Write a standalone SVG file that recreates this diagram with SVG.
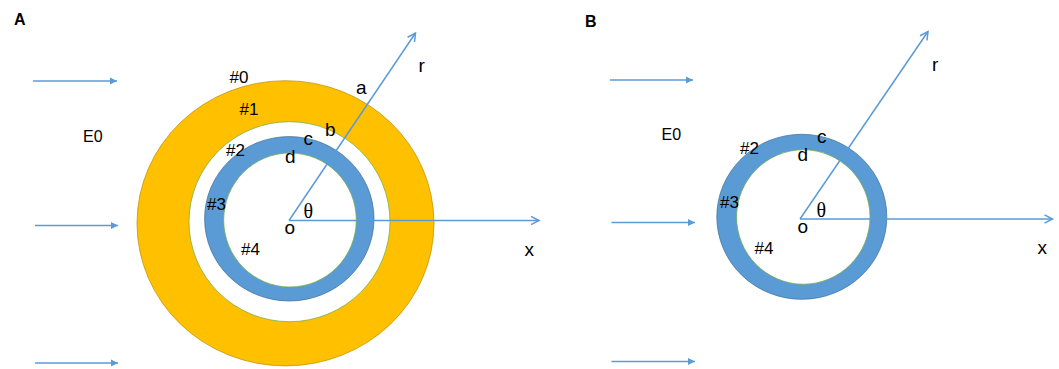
<svg xmlns="http://www.w3.org/2000/svg" width="1059" height="369" viewBox="0 0 1059 369">
<style>
.lbl{font-family:"Liberation Sans",Arial,sans-serif;font-size:17px;fill:#000}
.low{font-family:"Liberation Sans",Arial,sans-serif;font-size:19px;fill:#000}
.e0{font-family:"Liberation Sans",Arial,sans-serif;font-size:16px;fill:#000}
.th{font-family:"Liberation Serif","Times New Roman",serif;font-size:20px;fill:#000}
.pan{font-family:"Liberation Sans",Arial,sans-serif;font-size:16px;font-weight:bold;fill:#000}
.ax{stroke:#5B9BD5;stroke-width:1.5;fill:none;marker-end:url(#open)}
.fld{stroke:#5B9BD5;stroke-width:1.5;fill:none;marker-end:url(#solid)}
.yel{fill:#FFC000;stroke:#BF9000;stroke-width:0.75}
.gap{fill:#FFFFFF;stroke:#70AD47;stroke-width:0.75}
.blu{fill:#5B9BD5;stroke:#41719C;stroke-width:0.75}
</style>
<defs>
<marker id="open" markerUnits="userSpaceOnUse" markerWidth="12" markerHeight="12" refX="9" refY="5" orient="auto" viewBox="0 0 12 10">
<path d="M1,0.8 L9,5 L1,9.2" fill="none" stroke="#5B9BD5" stroke-width="1.5"/>
</marker>
<marker id="solid" markerUnits="userSpaceOnUse" markerWidth="8" markerHeight="8" refX="7" refY="3.5" orient="auto" viewBox="0 0 8 7">
<path d="M0,0 L7,3.5 L0,7 Z" fill="#5B9BD5"/>
</marker>
</defs>
<rect width="1059" height="369" fill="#FFFFFF"/>

<g id="panelA">
<text class="pan" x="14" y="25">A</text>
<g id="A-region0"><ellipse class="yel" cx="285.5" cy="223.3" rx="148.5" ry="142.6"/></g>
<g id="A-region2"><ellipse class="gap" cx="289.5" cy="221.7" rx="100.5" ry="100"/></g>
<g id="A-region3"><ellipse class="blu" cx="289.3" cy="218.8" rx="84.7" ry="82.2"/></g>
<g id="A-region4"><ellipse class="gap" cx="290" cy="220" rx="66.3" ry="67"/></g>
</g>

<g id="panelB">
<text class="pan" x="585" y="27">B</text>
<g id="B-region3"><ellipse class="blu" cx="801.8" cy="216.8" rx="85" ry="82.5"/></g>
<g id="B-region4"><ellipse class="gap" cx="803.3" cy="217" rx="66.7" ry="67.2"/></g>
</g>

<g id="connectors">
<line class="fld" x1="33" y1="81" x2="117" y2="81"/>
<line class="fld" x1="35" y1="225.5" x2="118" y2="225.5"/>
<line class="fld" x1="35" y1="363" x2="118" y2="363"/>
<line class="ax" x1="289" y1="220.5" x2="415.5" y2="33"/>
<line class="ax" x1="289" y1="220.5" x2="539" y2="220.5"/>
<line class="fld" x1="610" y1="80" x2="693" y2="80"/>
<line class="fld" x1="611.5" y1="222.5" x2="695" y2="222.5"/>
<line class="fld" x1="611.5" y1="361.5" x2="695" y2="361.5"/>
<line class="ax" x1="800" y1="219" x2="928" y2="31.5"/>
<line class="ax" x1="800" y1="219" x2="1052.5" y2="219"/>
</g>

<g id="labelsA">
<text class="e0" x="83" y="142">E0</text>
<text class="lbl" x="229.5" y="83">#0</text>
<text class="lbl" x="239.5" y="114.5">#1</text>
<text class="lbl" x="226" y="155.5">#2</text>
<text class="lbl" x="207" y="209.5">#3</text>
<text class="lbl" x="241" y="255">#4</text>
<text class="low" x="356" y="94">a</text>
<text class="low" x="325" y="136">b</text>
<text class="low" x="303.5" y="144.5">c</text>
<text class="low" x="285" y="162.5">d</text>
<text class="low" x="284.5" y="234">o</text>
<text class="th" x="303.5" y="217.5">θ</text>
<text class="low" x="418.5" y="72">r</text>
<text class="low" x="524.5" y="256">x</text>
</g>

<g id="labelsB">
<text class="e0" x="661.5" y="140">E0</text>
<text class="lbl" x="740" y="153.5">#2</text>
<text class="lbl" x="720" y="207.5">#3</text>
<text class="lbl" x="754.5" y="253.5">#4</text>
<text class="low" x="817" y="142.5">c</text>
<text class="low" x="797.5" y="161">d</text>
<text class="low" x="797.5" y="232.5">o</text>
<text class="th" x="816.5" y="216.5">θ</text>
<text class="low" x="932" y="71">r</text>
<text class="low" x="1037.5" y="254">x</text>
</g>
</svg>
